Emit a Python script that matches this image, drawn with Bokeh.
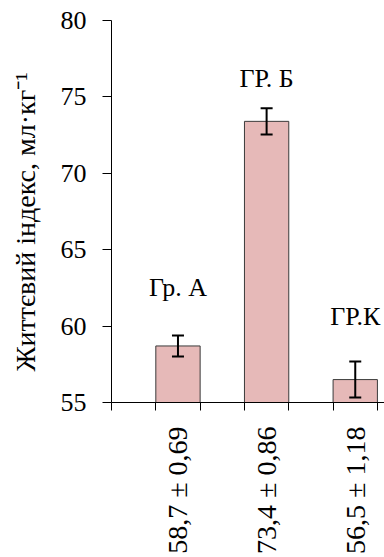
import math
from bokeh.plotting import figure
from bokeh.models import (FixedTicker, Range1d, ColumnDataSource, Whisker, TeeHead)
from bokeh.embed import file_html
from bokeh.resources import INLINE
from bokeh.core.properties import value

# ---- data ----
groups = ["Гр. А", "ГР. Б", "ГР.К"]
means = [58.7, 73.4, 56.5]
errors = [0.69, 0.86, 1.18]
value_labels = ["58,7 ± 0,69", "73,4 ± 0,86", "56,5 ± 1,18"]
group_label_y = [62.5, 76.2, 60.6]
y_ticks = [55, 60, 65, 70, 75, 80]

FONT = "Liberation Serif"

xs = [2 * i + 1.5 for i in range(len(groups))]
src = ColumnDataSource(dict(
    x=xs, top=means,
    lower=[m - e for m, e in zip(means, errors)],
    upper=[m + e for m, e in zip(means, errors)],
    grp=groups, gy=group_label_y,
))

p = figure(width=384, height=557, x_range=Range1d(0, 6.16), y_range=Range1d(55, 80),
           output_backend="svg", toolbar_location=None,
           min_border_left=111, min_border_top=20, min_border_right=0,
           min_border_bottom=155)
p.outline_line_color = None
p.grid.visible = False
p.background_fill_color = "white"

p.vbar(x="x", top="top", bottom=55, width=1.0, fill_color="#E6B9B8",
       line_color="#3a3a3a", line_width=1, source=src)

w = Whisker(base="x", lower="lower", upper="upper", source=src, level="overlay",
            line_color="black", line_width=2,
            upper_head=TeeHead(size=12, line_width=2, line_color="black"),
            lower_head=TeeHead(size=12, line_width=2, line_color="black"))
p.add_layout(w)

p.text(x="x", y="gy", text="grp", source=src, text_font=value(FONT),
       text_font_size="26px", text_align="center", text_baseline="middle",
       text_color="black")

# y axis
ya = p.yaxis[0]
ya.ticker = FixedTicker(ticks=y_ticks)
ya.major_tick_out = 9
ya.major_tick_in = 0
ya.minor_tick_out = 0
ya.minor_tick_in = 0
ya.axis_line_color = "black"
ya.major_tick_line_color = "black"
ya.major_label_text_font = FONT
ya.major_label_text_font_size = "26px"
ya.major_label_text_color = "black"
ya.major_label_standoff = 16
ya.axis_label = "Життєвий індекс, мл·кг⁻¹\u00a0\u00a0\u00a0"
ya.axis_label_text_font = FONT
ya.axis_label_text_font_size = "28px"
ya.axis_label_text_font_style = "normal"
ya.axis_label_text_color = "black"
ya.axis_label_standoff = 17

# x axis
xa = p.xaxis[0]
xa.ticker = FixedTicker(ticks=xs, minor_ticks=[0, 1, 2, 3, 4, 5, 6])
xa.major_label_overrides = {x: lab for x, lab in zip(xs, value_labels)}
xa.major_label_orientation = math.pi / 2
xa.major_label_text_font = FONT
xa.major_label_text_font_size = "28px"
xa.major_label_text_color = "black"
xa.major_label_standoff = 16
xa.major_tick_out = 0
xa.major_tick_in = 0
xa.minor_tick_out = 8
xa.minor_tick_in = 0
xa.minor_tick_line_color = "black"
xa.axis_line_color = "black"

open("out.html", "w").write(file_html(p, INLINE))
